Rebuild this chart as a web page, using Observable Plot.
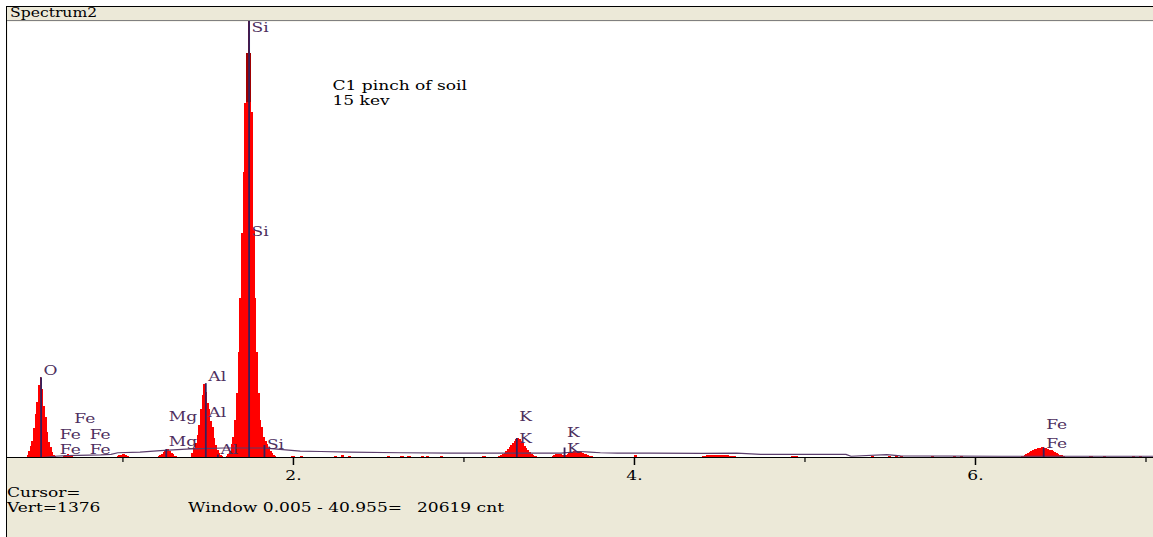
<!DOCTYPE html>
<html>
<head>
<meta charset="utf-8">
<script src="https://cdn.jsdelivr.net/npm/d3@7"></script>
<script src="https://cdn.jsdelivr.net/npm/@observablehq/plot@0.6"></script>
<style>
html,body{margin:0;padding:0;background:#fff;}
#wrap{position:relative;width:1153px;height:537px;overflow:hidden;font-family:"DejaVu Serif",serif;font-size:12px;color:#000;}
#panel{position:absolute;left:6px;top:6px;width:1146px;height:530px;background:#ece9d8;border-left:1px solid #000;border-top:1px solid #000;}
#header{position:absolute;left:7px;top:7px;width:1146px;height:14px;box-sizing:border-box;border-bottom:1px solid #808080;line-height:13px;padding-left:3px;}
#header span{display:inline-block;transform:scaleX(1.3);transform-origin:left center;}
#chart{position:absolute;left:0;top:0;}
.foot{position:absolute;line-height:14px;white-space:pre;transform:scaleX(1.42);transform-origin:left center;}
</style>
</head>
<body>
<div id="wrap">
  <div id="panel"></div>
  <div id="header"><span>Spectrum2</span></div>
  <div id="chart"></div>
  <div class="foot" style="left:7px;top:486px">Cursor=</div>
  <div class="foot" style="left:7px;top:501px">Vert=1376</div>
  <div class="foot" style="left:188px;top:501px">Window 0.005 - 40.955=</div>
  <div class="foot" style="left:417px;top:501px">20619 cnt</div>
</div>
<script>
// ---- axis ----
const xDomain = [0.323, 7.044];     // keV shown
const yMax = 1376;                  // Vert = 1376 counts full scale
const majorTicks = [2, 4, 6];
const minorTicks = [1, 3, 5, 7];
const channel = 0.01;               // keV per channel

// ---- spectrum channels (counts), each peak region: start keV + counts ----
const oStart = 0.44,  oCounts  = [5, 20, 35, 52, 90, 135, 175, 228, 252, 215, 160, 125, 80, 48, 30, 15, 6, 2];
const feLStart = 0.65, feLCounts = [3, 5, 7, 8, 7, 5, 3];
const naStart = 0.97, naCounts = [3, 5, 7, 8, 8, 6, 4, 2];
const mgStart = 1.21, mgCounts = [3, 6, 11, 17, 23, 26, 24, 19, 13, 8, 4, 2];
const alStart = 1.40, alCounts = [5, 14, 28, 45, 68, 100, 150, 195, 230, 205, 172, 150, 115, 95, 60, 38, 22, 12, 6, 3];
const siStart = 1.61, siCounts = [4, 10, 20, 40, 62, 117, 202, 331, 502, 707, 900, 1117, 1275, 1376, 1275, 1090, 720, 502, 331, 202, 117, 95, 62, 50, 40, 30, 20, 12, 6, 2];
const kStart = 3.20,  kCounts  = [2, 4, 6, 9, 13, 18, 24, 31, 38, 45, 51, 56, 60, 57, 51, 44, 36, 28, 21, 15, 10, 6, 4, 2];
const kbStart = 3.52, kbCounts = [3, 6, 9, 11, 10, 8, 6, 5, 7, 10, 13, 15, 17, 18, 19, 18, 17, 15, 13, 11, 8, 6, 4, 3, 2];
const feKStart = 6.27, feKCounts = [2, 4, 6, 9, 12, 15, 18, 21, 24, 26, 28, 29, 30, 30, 29, 27, 25, 23, 21, 19, 16, 13, 10, 7, 5, 3, 2];

// isolated low-count channels [keV, counts]
const noise = [[2.00,4],[2.05,3],[2.25,4],[2.29,5],[2.33,4],[2.56,3],[2.64,4],[2.68,3],[2.76,4],[2.79,3],[2.87,4],[3.12,3],[4.01,5],
  [4.41,4],[4.43,6],[4.45,7],[4.47,7],[4.49,6],[4.51,6],[4.53,5],[4.55,5],[4.57,4],[4.59,3],
  [4.93,4],[4.95,4],[5.40,4],[5.50,3],[5.54,4],[5.57,3],[5.75,4],[5.88,4],[5.92,4],[6.68,4],[6.76,3],[6.93,4],[6.97,4]];

// background / second trace
const bgKeV    = [0.53,0.60,0.67,0.87,0.93,0.97,1.10,1.22,1.32,1.40,1.46,1.59,1.82,1.87,2.04,2.16,2.33,2.63,2.92,3.21,3.57,3.68,3.74,3.80,3.90,4.09,4.39,4.60,4.74,5.24,5.27,5.48,5.56,6.15,7.044];
const bgCounts = [0,4,6,8,10,15,17,22,25,27,28,30,30,28,20,19,17,15,14,14,14,19,17,15,14,14,13,14,10,10,4,9,5,4,4];

// KLM marker labels
const markerEl  = ["Si","O","Fe","Fe","Fe","Fe","Fe","Mg","Mg","Al","Al","Al","Si","Si","K","K","K","K","Fe","Fe"];
const markerKeV = [1.74,0.52,0.70,0.615,0.79,0.615,0.79,1.254,1.254,1.486,1.486,1.557,1.74,1.83,3.31,3.31,3.59,3.59,6.40,6.40];
const markerTop = [1376,252,98,50,50,3,3,107,28,233,117,3,691,16,107,35,54,6,79,19];

// KLM marker lines
const lineKeV = [0.52,1.254,1.486,1.557,1.74,1.83,3.31,3.59,6.40];
const lineTop = [252,25,233,8,1376,38,60,30,30];

const noteLines = ["C1 pinch of soil", "15 kev"];

// ---- tables ----
const peaks = [["O",oStart,oCounts],["FeL",feLStart,feLCounts],["Na",naStart,naCounts],["Mg",mgStart,mgCounts],
  ["Al",alStart,alCounts],["Si",siStart,siCounts],["K",kStart,kCounts],["Kb",kbStart,kbCounts],["FeK",feKStart,feKCounts]];
const spectrum = peaks.flatMap(([peak, start, counts]) =>
  counts.map((c, i) => ({peak, keV: +(start + i * channel).toFixed(3), counts: c})));
const background = bgKeV.map((k, i) => ({keV: k, counts: bgCounts[i]}));
const markers = markerEl.map((el, i) => ({el, keV: markerKeV[i], top: markerTop[i]}));
const lines = lineKeV.map((k, i) => ({keV: k, top: lineTop[i]}));

const labelColor = "#4e2f5e";
const lineColor = "#35205c";
const darkAbove = 1120;
const stretch = 1.42;

const plot = Plot.plot({
  width: 1153, height: 537,
  marginLeft: 7, marginRight: 0, marginTop: 21, marginBottom: 80,
  x: {domain: xDomain, axis: null, label: null},
  y: {domain: [0, yMax], axis: null, label: null},
  style: {background: "transparent", fontFamily: '"DejaVu Serif", serif', fontSize: "12px", overflow: "visible", color: "black"},
  marks: [
    Plot.frame({fill: "white", stroke: "none"}),
    Plot.areaY(spectrum, {x: "keV", y: "counts", z: "peak", curve: "step", fill: "url(#redfill)", shapeRendering: "crispEdges"}),
    Plot.rectY(noise, {x1: d => d[0] - 0.01, x2: d => d[0] + 0.01, y: d => d[1], fill: "#ff0000", inset: 0, shapeRendering: "crispEdges"}),
    Plot.line(background, {x: "keV", y: "counts", stroke: "#5a3d6b", strokeWidth: 1.2}),
    Plot.ruleX(lines, {x: "keV", y1: 0, y2: "top", stroke: lineColor, strokeWidth: 1.8}),
    Plot.text(markers.filter(d => d.top < yMax), {x: "keV", y: "top", text: "el", textAnchor: "start", lineAnchor: "bottom", dx: 2.5, dy: -3, fill: labelColor, fontSize: 12}),
    Plot.text(markers.filter(d => d.top >= yMax), {x: "keV", y: "top", text: "el", textAnchor: "start", lineAnchor: "top", dx: 2.5, dy: 2, fill: labelColor, fontSize: 12}),
    Plot.ruleY([0], {stroke: "black", strokeWidth: 1}),
    Plot.axisX(majorTicks, {tickSize: 8, tickPadding: 6, tickFormat: d => d + ".", fontSize: 12, label: null, stroke: "black", strokeWidth: 1.5, fill: "black"}),
    Plot.axisX(minorTicks, {tickSize: 5, tickFormat: () => "", label: null, stroke: "black", strokeWidth: 1.2}),
    Plot.text([noteLines.join("\n")], {frameAnchor: "top-left", dx: 325, dy: 58, textAnchor: "start", lineAnchor: "top", lineHeight: 1.25, fill: "black", fontSize: 12})
  ]
});

// gradient fill: dark red at the very top of the tallest peak
const y = plot.scale("y");
const ns = "http://www.w3.org/2000/svg";
const defs = document.createElementNS(ns, "defs");
const grad = document.createElementNS(ns, "linearGradient");
grad.setAttribute("id", "redfill");
grad.setAttribute("gradientUnits", "userSpaceOnUse");
grad.setAttribute("x1", 0); grad.setAttribute("x2", 0);
grad.setAttribute("y1", y.apply(yMax)); grad.setAttribute("y2", y.apply(0));
const off = (yMax - darkAbove) / yMax;
[[0, "#a00000"], [off, "#a00000"], [off, "#ff0000"], [1, "#ff0000"]].forEach(([o, c]) => {
  const s = document.createElementNS(ns, "stop");
  s.setAttribute("offset", o); s.setAttribute("stop-color", c);
  grad.appendChild(s);
});
defs.appendChild(grad);
plot.insertBefore(defs, plot.firstChild);
document.getElementById("chart").appendChild(plot);

// widen the glyphs like the instrument's bitmap font
plot.querySelectorAll("text").forEach(t => {
  const parts = t.querySelectorAll("tspan");
  const targets = parts.length ? Array.from(parts) : [t];
  targets.forEach(el => {
    if (!el.textContent) return;
    const w = el.getComputedTextLength();
    if (w > 0) {
      el.setAttribute("textLength", (w * stretch).toFixed(1));
      el.setAttribute("lengthAdjust", "spacingAndGlyphs");
    }
  });
});
</script>
</body>
</html>
